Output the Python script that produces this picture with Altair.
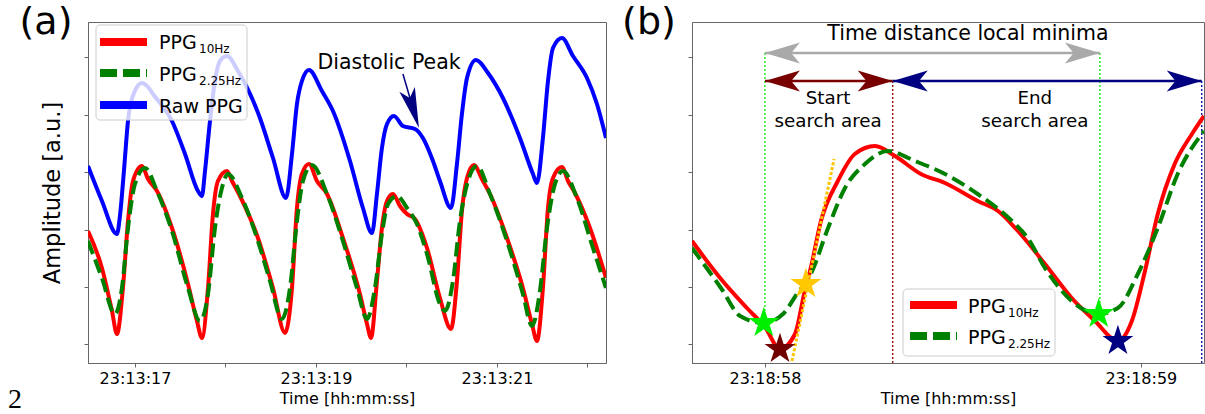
import altair as alt
import pandas as pd

FONT = "DejaVu Sans"

# ---------------- Panel (a) data: time [s past 23:13:00], amplitude [a.u.] ----------------
a_red_t = [16.481, 16.635, 16.746, 16.801, 16.867, 16.923, 16.978, 17.077, 17.144, 17.243,
           17.409, 17.586, 17.685, 17.740, 17.807, 17.862, 17.917, 18.017, 18.072, 18.160,
           18.359, 18.525, 18.658, 18.735, 18.790, 18.845, 18.923, 19.011, 19.122, 19.298,
           19.486, 19.564, 19.608, 19.674, 19.729, 19.785, 19.851, 19.928, 20.006, 20.094,
           20.227, 20.370, 20.492, 20.558, 20.613, 20.669, 20.746, 20.834, 20.923, 21.111,
           21.287, 21.387, 21.442, 21.508, 21.564, 21.619, 21.718, 21.785, 21.862, 22.028,
           22.205]
a_red_v = [113, 76, 33, 10, 56, 123, 163, 178, 165, 153,
           116, 60, 23, 6, 56, 130, 163, 173, 163, 148,
           106, 56, 11, 56, 136, 170, 180, 163, 150, 106,
           50, 20, 6, 63, 116, 143, 150, 138, 130, 125,
           96, 46, 15, 63, 133, 166, 179, 165, 150, 106,
           56, 20, 3, 56, 136, 166, 177, 163, 151, 116,
           66]

a_green_t = [16.481, 16.635, 16.779, 16.856, 16.923, 17.000, 17.111, 17.243, 17.409, 17.586,
             17.718, 17.807, 17.884, 17.961, 18.028, 18.182, 18.359, 18.492, 18.624, 18.713,
             18.790, 18.856, 18.956, 19.122, 19.298, 19.453, 19.564, 19.652, 19.729, 19.796,
             19.895, 20.006, 20.116, 20.227, 20.370, 20.426, 20.514, 20.591, 20.680, 20.779,
             20.923, 21.111, 21.287, 21.387, 21.475, 21.553, 21.641, 21.729, 21.884, 22.061,
             22.205]
a_green_v = [103, 66, 30, 56, 116, 160, 176, 153, 113, 56,
             23, 50, 116, 156, 170, 146, 103, 63, 25, 56,
             123, 163, 179, 150, 103, 56, 25, 56, 110, 140,
             148, 136, 120, 90, 40, 33, 63, 123, 163, 178,
             150, 103, 50, 18, 53, 116, 160, 173, 146, 96,
             56]

a_blue_t = [16.481, 16.635, 16.801, 16.834, 16.878, 16.923, 16.989, 17.077, 17.144, 17.199,
            17.409, 17.553, 17.696, 17.740, 17.774, 17.829, 17.884, 17.939, 18.017, 18.138,
            18.381, 18.525, 18.669, 18.735, 18.790, 18.845, 18.923, 19.066, 19.188, 19.376,
            19.519, 19.619, 19.674, 19.729, 19.785, 19.862, 19.961, 20.094, 20.182, 20.293,
            20.370, 20.492, 20.558, 20.613, 20.669, 20.768, 20.901, 21.066, 21.254, 21.398,
            21.442, 21.508, 21.564, 21.619, 21.718, 21.840, 21.995, 22.105, 22.205]
a_blue_v = [178, 143, 110, 128, 173, 223, 251, 261, 257, 250,
            223, 190, 153, 148, 173, 223, 263, 283, 288, 273,
            226, 186, 146, 190, 240, 263, 274, 253, 233, 183,
            136, 111, 150, 196, 220, 228, 218, 215, 206, 183,
            163, 136, 180, 230, 266, 284, 271, 246, 206, 170,
            161, 206, 263, 296, 306, 288, 266, 240, 206]

a_x_domain = [16.481, 22.205]
a_x_ticks = [17, 18, 19, 20, 21, 22]
y_domain = [-19, 322]
y_ticks = [0, 57, 114, 172, 229, 287]

a_note_label = ["Diastolic Peak"]
a_note_t = [19.807]
a_note_v = [275]
a_shaft_t = [19.961]
a_shaft_v = [270]
a_shaft_t2 = [20.039]
a_shaft_v2 = [246]
a_tip_t = [20.138]
a_tip_v = [216]

# ---------------- Panel (b) data: time [s past 23:18:00] ----------------
b_red_t = [57.806, 57.883, 57.952, 58.000, 58.040, 58.080, 58.106, 58.122, 58.149, 58.194,
           58.239, 58.293, 58.346, 58.415, 58.479, 58.566, 58.620, 58.673, 58.745, 58.816,
           58.878, 58.939, 58.976, 59.011, 59.045, 59.090, 59.136, 59.168]
b_red_v = [103, 65, 36, 17, -5, 10, 53, 76, 123, 163,
           190, 198, 188, 170, 161, 143, 133, 113, 80, 46,
           23, 3, 23, 73, 130, 180, 210, 228]

b_green_t = [57.806, 57.883, 57.934, 57.997, 58.048, 58.085, 58.122, 58.168, 58.213, 58.266,
             58.327, 58.399, 58.479, 58.566, 58.657, 58.699, 58.745, 58.816, 58.886, 58.939,
             58.992, 59.045, 59.098, 59.168]
b_green_v = [96, 56, 28, 21, 30, 50, 70, 116, 156, 180,
             193, 183, 170, 150, 123, 106, 76, 43, 30, 36,
             70, 116, 170, 213]

b_x_domain = [57.806, 59.168]
b_x_ticks = [58, 59]

b_star_kind = ["start min 2.25Hz", "start min 10Hz", "max slope", "end min 2.25Hz", "end min 10Hz"]
b_star_t = [57.997, 58.040, 58.109, 58.888, 58.939]
b_star_v = [21, -5, 60, 30, 3]

b_tan_t = [58.072, 58.184]
b_tan_v = [-17, 185]

b_mark_kind = ["lime marker", "lime marker", "maroon marker", "navy marker"]
b_mark_t = [58.000, 58.891, 58.340, 59.162]
b_mark_top = [291, 291, 263, 263]
b_mark_bottom = [21, 30, -19, -19]

b_span_name = ["Time distance local minima", "Start search area", "End search area"]
b_span_start = [58.000, 58.000, 58.340]
b_span_end = [58.891, 58.340, 59.162]
b_span_level = [291, 263, 263]

b_title_label = ["Time distance local minima"]
b_title_t = [58.540]
b_title_v = [304]
b_area_label = ["Start", "search area", "End", "search area"]
b_area_t = [58.168, 58.168, 58.718, 58.718]
b_area_v = [240, 217, 240, 217]

# ---------------- shapes ----------------
STAR = ("M0,-1L0.2245,-0.309L0.9511,-0.309L0.3633,0.118L0.5878,0.809L0,0.382"
        "L-0.5878,0.809L-0.3633,0.118L-0.9511,-0.309L-0.2245,-0.309Z")
HEAD_R = "M0,0L-2,-0.6L-1.5,0L-2,0.6Z"
HEAD_L = "M0,0L2,-0.6L1.5,0L2,0.6Z"
HEAD_D = "M0,0L-0.4,-2L0,-1.55L0.4,-2Z"

one = pd.DataFrame({"k": [0]})

sy = alt.Scale(domain=y_domain, nice=False, zero=False)

# ---------------- Panel (a) ----------------
sx_a = alt.Scale(domain=a_x_domain, nice=False, zero=False)
ax_a = alt.Axis(values=a_x_ticks, title="Time [hh:mm:ss]", labelOverlap=False,
                labelExpr="datum.value % 2 == 1 ? '23:13:' + datum.value : ''")
ay_a = alt.Axis(values=y_ticks, labels=False, title="Amplitude [a.u.]",
                titleFontSize=22.5, titlePadding=19)


def XA(f):
    return alt.X(f, type="quantitative", scale=sx_a, axis=ax_a)


def YA(f):
    return alt.Y(f, type="quantitative", scale=sy, axis=ay_a)


def line_a(t, v, color, dash=None):
    kw = dict(color=color, strokeWidth=4, interpolate="monotone", clip=True)
    if dash:
        kw["strokeDash"] = dash
        kw["strokeCap"] = "butt"
    return alt.Chart(pd.DataFrame({"t": t, "v": v})).mark_line(**kw).encode(x=XA("t"), y=YA("v"))


a_layers = [
    line_a(a_red_t, a_red_v, "#ff0000"),
    line_a(a_green_t, a_green_v, "#008000", [14, 6]),
    line_a(a_blue_t, a_blue_v, "#0000ff"),
    alt.Chart(pd.DataFrame({"t": a_note_t, "v": a_note_v, "label": a_note_label}))
    .mark_text(font=FONT, fontSize=20.5, align="center", baseline="alphabetic", color="black")
    .encode(x=XA("t"), y=YA("v"), text="label:N"),
    alt.Chart(pd.DataFrame({"t": a_shaft_t, "v": a_shaft_v, "t2": a_shaft_t2, "v2": a_shaft_v2}))
    .mark_rule(color="#000080", strokeWidth=1.5)
    .encode(x=XA("t"), y=YA("v"), x2="t2:Q", y2="v2:Q"),
    alt.Chart(pd.DataFrame({"t": a_tip_t, "v": a_tip_v}))
    .mark_point(shape=HEAD_D, size=1640, filled=True, color="#000080", opacity=1,
                strokeWidth=0, angle=343)
    .encode(x=XA("t"), y=YA("v")),
    # legend (a)
    alt.Chart(one).mark_rect(fill="white", fillOpacity=0.8, stroke="#cccccc", strokeWidth=1,
                             cornerRadius=4)
    .encode(x=alt.value(8), x2=alt.value(159), y=alt.value(3), y2=alt.value(98)),
    alt.Chart(one).mark_rule(color="#ff0000", strokeWidth=8, strokeCap="butt")
    .encode(x=alt.value(12), x2=alt.value(59), y=alt.value(20)),
    alt.Chart(one).mark_rule(color="#008000", strokeWidth=8, strokeDash=[17, 6], strokeCap="butt")
    .encode(x=alt.value(12), x2=alt.value(59), y=alt.value(51)),
    alt.Chart(one).mark_rule(color="#0000ff", strokeWidth=8, strokeCap="butt")
    .encode(x=alt.value(12), x2=alt.value(59), y=alt.value(83)),
]
for txt, x, y, fs in [("PPG", 71, 27, 19), ("10Hz", 111, 31, 12),
                      ("PPG", 71, 59, 19), ("2.25Hz", 111, 63, 12),
                      ("Raw PPG", 71, 91, 19),
                      ("(a)", -42, 12, 38)]:
    a_layers.append(alt.Chart(one).mark_text(text=txt, font=FONT, fontSize=fs,
                                             align="left" if txt != "(a)" else "center",
                                             baseline="alphabetic", color="black")
                    .encode(x=alt.value(x), y=alt.value(y)))
a_layers.append(alt.Chart(one).mark_text(text="2", font="Liberation Serif", fontSize=28, align="center",
                                         baseline="alphabetic", color="black")
                .encode(x=alt.value(-73), y=alt.value(386)))

panel_a = alt.layer(*a_layers).properties(width=518, height=341)

# ---------------- Panel (b) ----------------
sx_b = alt.Scale(domain=b_x_domain, nice=False, zero=False)
ax_b = alt.Axis(values=b_x_ticks, title="Time [hh:mm:ss]", labelExpr="'23:18:' + datum.value")
ay_b = alt.Axis(values=y_ticks, labels=False, title=None)


def XB(f):
    return alt.X(f, type="quantitative", scale=sx_b, axis=ax_b)


def YB(f):
    return alt.Y(f, type="quantitative", scale=sy, axis=ay_b)


def line_b(t, v, color, dash=None):
    kw = dict(color=color, strokeWidth=4, interpolate="monotone", clip=True)
    if dash:
        kw["strokeDash"] = dash
        kw["strokeCap"] = "butt"
    return alt.Chart(pd.DataFrame({"t": t, "v": v})).mark_line(**kw).encode(x=XB("t"), y=YB("v"))


mark_df = pd.DataFrame({"kind": b_mark_kind, "t": b_mark_t, "top": b_mark_top, "bottom": b_mark_bottom})
span_df = pd.DataFrame({"kind": b_span_name, "start": b_span_start, "end": b_span_end, "level": b_span_level})
star_df = pd.DataFrame({"kind": b_star_kind, "t": b_star_t, "v": b_star_v})

# one shared colour scale for every categorical layer of panel (b)
b_color_domain = ["lime marker", "maroon marker", "navy marker"] + b_span_name + b_star_kind
b_color_range = ["#00ee00", "#8b0000", "#0000a0",
                 "#a9a9a9", "#780000", "#000080",
                 "#00ee00", "#700000", "#ffc800", "#00ee00", "#000080"]
b_color = alt.Color("kind:N", scale=alt.Scale(domain=b_color_domain, range=b_color_range), legend=None)
span_size = alt.Size("kind:N", scale=alt.Scale(domain=b_span_name, range=[1225, 1225, 1764]), legend=None)

b_layers = [
    alt.Chart(mark_df).mark_rule(strokeWidth=1.3, strokeDash=[2, 2])
    .encode(x=XB("t"), y=YB("top"), y2="bottom:Q", color=b_color),
    line_b(b_red_t, b_red_v, "#ff0000"),
    line_b(b_green_t, b_green_v, "#008000", [14, 6]),
    alt.Chart(pd.DataFrame({"t": b_tan_t, "v": b_tan_v}))
    .mark_line(color="#ffc400", strokeWidth=3, strokeDash=[3, 2], clip=True)
    .encode(x=XB("t"), y=YB("v")),
    alt.Chart(span_df).mark_rule(strokeWidth=2.6)
    .encode(x=XB("start"), x2="end:Q", y=YB("level"), color=b_color),
    alt.Chart(span_df).mark_point(shape=HEAD_L, filled=True, opacity=1, strokeWidth=0)
    .encode(x=XB("start"), y=YB("level"), color=b_color, size=span_size),
    alt.Chart(span_df).mark_point(shape=HEAD_R, filled=True, opacity=1, strokeWidth=0)
    .encode(x=XB("end"), y=YB("level"), color=b_color, size=span_size),
    alt.Chart(star_df).mark_point(shape=STAR, filled=True, opacity=1, size=1050, strokeWidth=0)
    .encode(x=XB("t"), y=YB("v"), color=b_color),
    alt.Chart(pd.DataFrame({"t": b_title_t, "v": b_title_v, "label": b_title_label}))
    .mark_text(font=FONT, fontSize=20.5, align="center", baseline="alphabetic", color="black")
    .encode(x=XB("t"), y=YB("v"), text="label:N"),
    alt.Chart(pd.DataFrame({"t": b_area_t, "v": b_area_v, "label": b_area_label}))
    .mark_text(font=FONT, fontSize=18.3, align="center", baseline="alphabetic", color="black")
    .encode(x=XB("t"), y=YB("v"), text="label:N"),
    # legend (b)
    alt.Chart(one).mark_rect(fill="white", fillOpacity=0.8, stroke="#cccccc", strokeWidth=1,
                             cornerRadius=4)
    .encode(x=alt.value(211), x2=alt.value(363), y=alt.value(267), y2=alt.value(334)),
    alt.Chart(one).mark_rule(color="#ff0000", strokeWidth=8, strokeCap="butt")
    .encode(x=alt.value(218), x2=alt.value(265), y=alt.value(283)),
    alt.Chart(one).mark_rule(color="#008000", strokeWidth=8, strokeDash=[17, 6], strokeCap="butt")
    .encode(x=alt.value(218), x2=alt.value(265), y=alt.value(314)),
]
for txt, x, y, fs in [("PPG", 276, 291, 19), ("10Hz", 316, 295, 12),
                      ("PPG", 276, 322, 19), ("2.25Hz", 316, 326, 12),
                      ("(b)", -43, 12, 38)]:
    b_layers.append(alt.Chart(one).mark_text(text=txt, font=FONT, fontSize=fs,
                                             align="left" if txt != "(b)" else "center",
                                             baseline="alphabetic", color="black")
                    .encode(x=alt.value(x), y=alt.value(y)))

panel_b = alt.layer(*b_layers).properties(width=512, height=341)

chart = (
    alt.hconcat(panel_a, panel_b, spacing=86, bounds="flush")
    .properties(padding={"left": 7, "top": 3, "right": 0, "bottom": 10}, background="white")
    .configure_view(stroke="#666666", strokeWidth=1)
    .configure_axis(labelFont=FONT, titleFont=FONT, labelFontSize=16, titleFontSize=16,
                    titleFontWeight="normal", labelColor="black", titleColor="black",
                    tickColor="#666666", domainColor="#666666", tickSize=4, grid=False,
                    labelPadding=3, titlePadding=4)
)

chart.save("out.html", embed_options={"renderer": "svg", "actions": False})
